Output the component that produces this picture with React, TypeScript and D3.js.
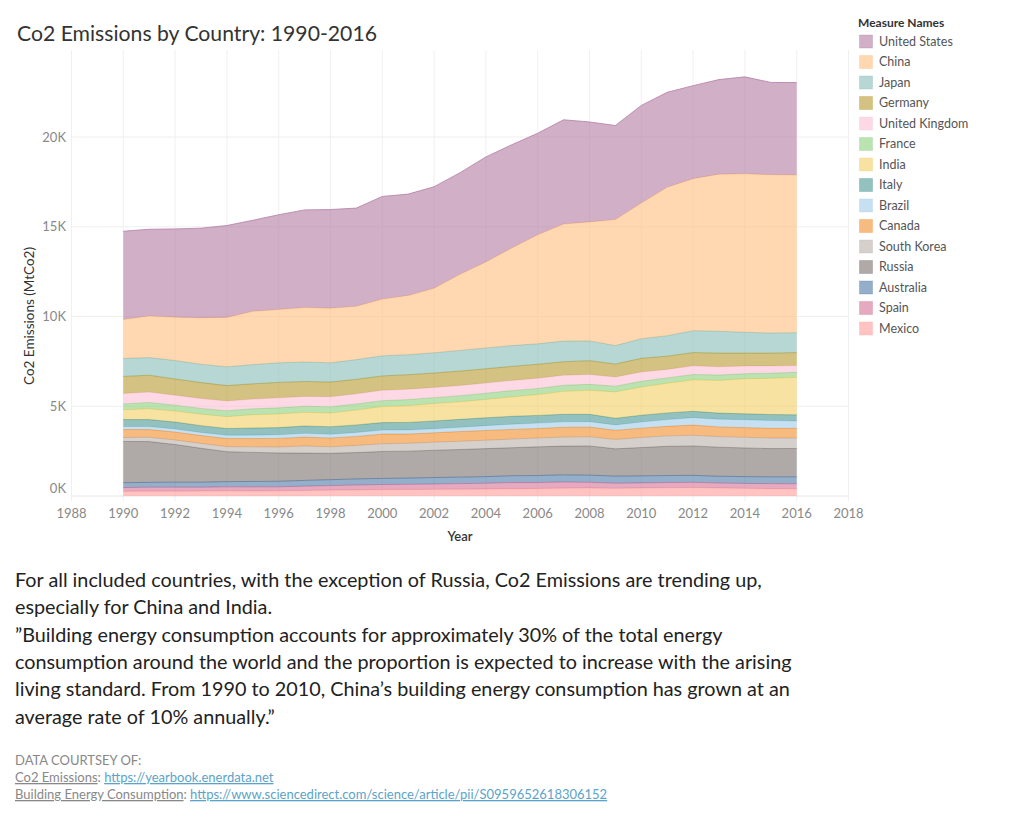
import React from 'react';
import * as d3 from 'd3';

// Years covered by the series
const years = [
  1990, 1991, 1992, 1993, 1994, 1995, 1996, 1997, 1998, 1999,
  2000, 2001, 2002, 2003, 2004, 2005, 2006, 2007, 2008, 2009,
  2010, 2011, 2012, 2013, 2014, 2015, 2016,
];

// CO2 emissions per country, thousands of MtCO2
const unitedStates = [4.92, 4.83, 4.92, 5.0, 5.12, 5.07, 5.28, 5.44, 5.5, 5.47, 5.72, 5.65, 5.66, 5.66, 5.85, 5.75, 5.66, 5.81, 5.57, 5.24, 5.44, 5.29, 5.18, 5.27, 5.4, 5.14, 5.15];
const china = [2.17, 2.32, 2.41, 2.58, 2.75, 2.97, 2.97, 3.03, 3.04, 2.97, 3.16, 3.3, 3.59, 4.24, 4.79, 5.44, 6.07, 6.52, 6.63, 7.02, 7.56, 8.27, 8.47, 8.75, 8.83, 8.82, 8.78];
const japan = [1.0, 0.98, 1.03, 1.02, 1.05, 1.07, 1.09, 1.09, 1.07, 1.1, 1.12, 1.11, 1.13, 1.15, 1.16, 1.16, 1.14, 1.15, 1.1, 1.03, 1.09, 1.14, 1.22, 1.22, 1.16, 1.12, 1.11];
const germany = [0.95, 0.94, 0.91, 0.89, 0.86, 0.85, 0.86, 0.83, 0.82, 0.81, 0.8, 0.81, 0.8, 0.8, 0.8, 0.78, 0.78, 0.75, 0.77, 0.72, 0.76, 0.74, 0.74, 0.76, 0.72, 0.72, 0.72];
const unitedKingdom = [0.58, 0.58, 0.55, 0.55, 0.54, 0.54, 0.56, 0.55, 0.56, 0.56, 0.58, 0.58, 0.57, 0.57, 0.56, 0.57, 0.57, 0.56, 0.55, 0.51, 0.52, 0.47, 0.48, 0.46, 0.43, 0.4, 0.38];
const france = [0.33, 0.35, 0.33, 0.32, 0.33, 0.33, 0.34, 0.34, 0.35, 0.34, 0.33, 0.34, 0.33, 0.34, 0.35, 0.35, 0.34, 0.34, 0.33, 0.32, 0.32, 0.3, 0.3, 0.3, 0.28, 0.28, 0.28];
const india = [0.54, 0.6, 0.61, 0.64, 0.66, 0.74, 0.76, 0.76, 0.76, 0.83, 0.89, 0.93, 0.97, 0.98, 1.02, 1.08, 1.16, 1.28, 1.34, 1.47, 1.57, 1.65, 1.75, 1.82, 1.95, 2.02, 2.09];
const italy = [0.39, 0.39, 0.39, 0.38, 0.38, 0.4, 0.4, 0.41, 0.42, 0.42, 0.42, 0.42, 0.43, 0.44, 0.44, 0.44, 0.43, 0.42, 0.41, 0.37, 0.38, 0.37, 0.36, 0.34, 0.33, 0.34, 0.34];
const brazil = [0.17, 0.17, 0.17, 0.17, 0.18, 0.19, 0.2, 0.21, 0.21, 0.22, 0.22, 0.23, 0.23, 0.24, 0.27, 0.29, 0.3, 0.3, 0.3, 0.3, 0.34, 0.38, 0.41, 0.43, 0.44, 0.43, 0.41];
const canada = [0.44, 0.43, 0.44, 0.44, 0.45, 0.46, 0.48, 0.49, 0.49, 0.5, 0.54, 0.51, 0.52, 0.54, 0.54, 0.54, 0.53, 0.55, 0.54, 0.51, 0.52, 0.53, 0.57, 0.54, 0.54, 0.54, 0.54];
const southKorea = [0.22, 0.24, 0.25, 0.27, 0.28, 0.31, 0.33, 0.4, 0.36, 0.4, 0.43, 0.44, 0.45, 0.46, 0.47, 0.48, 0.49, 0.5, 0.51, 0.52, 0.56, 0.58, 0.59, 0.59, 0.59, 0.59, 0.58];
const russia = [2.3, 2.27, 2.1, 1.89, 1.67, 1.62, 1.58, 1.52, 1.47, 1.47, 1.5, 1.5, 1.52, 1.54, 1.56, 1.56, 1.6, 1.6, 1.63, 1.52, 1.58, 1.63, 1.64, 1.62, 1.6, 1.57, 1.58];
const australia = [0.27, 0.27, 0.28, 0.28, 0.29, 0.3, 0.31, 0.32, 0.33, 0.34, 0.34, 0.35, 0.36, 0.36, 0.37, 0.38, 0.39, 0.4, 0.4, 0.4, 0.39, 0.39, 0.39, 0.38, 0.38, 0.38, 0.39];
const spain = [0.21, 0.22, 0.22, 0.21, 0.22, 0.23, 0.22, 0.24, 0.25, 0.27, 0.28, 0.29, 0.3, 0.31, 0.32, 0.34, 0.33, 0.34, 0.31, 0.28, 0.28, 0.29, 0.29, 0.27, 0.27, 0.28, 0.28];
const mexico = [0.26, 0.27, 0.27, 0.28, 0.29, 0.28, 0.29, 0.31, 0.33, 0.34, 0.36, 0.36, 0.37, 0.38, 0.39, 0.41, 0.42, 0.44, 0.45, 0.43, 0.45, 0.46, 0.47, 0.45, 0.43, 0.41, 0.4];

// Legend order (top to bottom); stacking runs in reverse
const countries = [
  'United States', 'China', 'Japan', 'Germany', 'United Kingdom', 'France', 'India',
  'Italy', 'Brazil', 'Canada', 'South Korea', 'Russia', 'Australia', 'Spain', 'Mexico',
];
const seriesValues = [
  unitedStates, china, japan, germany, unitedKingdom, france, india,
  italy, brazil, canada, southKorea, russia, australia, spain, mexico,
];
const palette = [
  '#b07aa1', '#ffbe7d', '#86bcb6', '#b6992d', '#fabfd2', '#8cd17d', '#f1ce63',
  '#499894', '#a0cbe8', '#f28e2b', '#bab0ac', '#79706e', '#4e79a7', '#d37295', '#ff9d9a',
];

const yTicks = [0, 5000, 10000, 15000, 20000];
const xTicks = [1988, 1990, 1992, 1994, 1996, 1998, 2000, 2002, 2004, 2006, 2008, 2010, 2012, 2014, 2016, 2018];

const noteLines = [
  'For all included countries, with the exception of Russia, Co2 Emissions are trending up,',
  'especially for China and India.',
  '\u201dBuilding energy consumption accounts for approximately 30% of the total energy',
  'consumption around the world and the proportion is expected to increase with the arising',
  'living standard. From 1990 to 2010, China\u2019s building energy consumption has grown at an',
  'average rate of 10% annually.\u201d',
];

const FONT = "Lato, 'Noto Sans', sans-serif";

export default function App() {
  const W = 1024;
  const H = 819;
  const x = d3.scaleLinear().domain([1988, 2018]).range([71.5, 848.5]);
  const y = d3.scaleLinear().domain([0, 20000]).range([496, 137]);

  const rows = years.map((yr, i) => {
    const row: Record<string, number> = { year: yr };
    countries.forEach((c, k) => { row[c] = seriesValues[k][i] * 1000; });
    return row;
  });
  const stackKeys = [...countries].reverse();
  const stacked = d3.stack<Record<string, number>>().keys(stackKeys)(rows);
  const color = d3.scaleOrdinal<string, string>().domain(countries).range(palette);

  const area = d3.area<d3.SeriesPoint<Record<string, number>>>()
    .x((d) => x(d.data.year))
    .y0((d) => y(d[0]))
    .y1((d) => y(d[1]));
  const topLine = d3.line<d3.SeriesPoint<Record<string, number>>>()
    .x((d) => x(d.data.year))
    .y((d) => y(d[1]));

  const paneTop = 50;
  const paneBottom = 496;

  return (
    <div style={{ position: 'absolute', left: 0, top: 0 }}>
      <svg width={W} height={H} style={{ display: 'block', background: '#fff' }}>
        <text x={17} y={41} fontFamily={FONT} fontSize={21.2} fill="#333">
          Co2 Emissions by Country: 1990-2016
        </text>

        {/* grid */}
        {xTicks.map((t) => (
          <line key={'vx' + t} x1={x(t)} x2={x(t)} y1={paneTop} y2={paneBottom + 5} stroke="#f0f0f0" strokeWidth={1} />
        ))}
        {yTicks.map((t) => (
          <line key={'hy' + t} x1={x(1988)} x2={x(2018)} y1={y(t)} y2={y(t)} stroke={t === 0 ? '#e6e6e6' : '#efefef'} strokeWidth={1} />
        ))}

        {/* stacked areas */}
        {stacked.map((s) => (
          <g key={s.key}>
            <path d={area(s) || ''} fill={color(s.key)} fillOpacity={0.6} stroke="none" />
            <path d={topLine(s) || ''} fill="none" stroke={color(s.key)} strokeOpacity={0.75} strokeWidth={1} />
          </g>
        ))}

        {/* y axis */}
        {yTicks.map((t) => (
          <text key={'yl' + t} x={66} y={Math.min(y(t), 488)} dy="0.35em" textAnchor="end" fontFamily={FONT} fontSize={13} fill="#888">
            {d3.format('~s')(t).replace('k', 'K').replace(/^0$/, '0K')}
          </text>
        ))}
        <text transform="translate(34,316) rotate(-90)" textAnchor="middle" fontFamily={FONT} fontSize={13.5} fill="#333">
          Co2 Emissions (MtCo2)
        </text>

        {/* x axis */}
        {xTicks.map((t) => (
          <text key={'xl' + t} x={x(t)} y={513} dy="0.35em" textAnchor="middle" fontFamily={FONT} fontSize={13} fill="#888">
            {t}
          </text>
        ))}
        <text x={460} y={541} textAnchor="middle" fontFamily={FONT} fontSize={13} fontWeight={600} fill="#333">
          Year
        </text>

        {/* legend */}
        <text x={858} y={27} fontFamily={FONT} fontSize={12} fontWeight={700} fill="#333">
          Measure Names
        </text>
        {countries.map((c, i) => (
          <g key={'lg' + c} transform={`translate(859, ${34.5 + i * 20.5})`}>
            <rect x={0.5} y={0.5} width={13} height={13} fill={color(c)} fillOpacity={0.6} stroke={color(c)} strokeOpacity={0.3} />
            <text x={20} y={7} dy="0.35em" fontFamily={FONT} fontSize={12.5} fill="#555">
              {c}
            </text>
          </g>
        ))}

        {/* commentary */}
        {noteLines.map((line, i) => (
          <text key={'n' + i} x={15} y={587 + i * 27.3} fontFamily={FONT} fontSize={19.8} fill="#222">
            {line}
          </text>
        ))}

        {/* sources */}
        <text x={15} y={765} fontFamily={FONT} fontSize={13} fill="#888">DATA COURTSEY OF:</text>
        <text x={15} y={782} fontFamily={FONT} fontSize={13} fill="#888">
          <tspan textDecoration="underline">Co2 Emissions</tspan>
          <tspan>: </tspan>
          <tspan fill="#5ba3c9" textDecoration="underline">https://yearbook.enerdata.net</tspan>
        </text>
        <text x={15} y={799} fontFamily={FONT} fontSize={13} fill="#888">
          <tspan textDecoration="underline">Building Energy Consumption</tspan>
          <tspan>: </tspan>
          <tspan fill="#5ba3c9" textDecoration="underline">https://www.sciencedirect.com/science/article/pii/S0959652618306152</tspan>
        </text>
      </svg>
    </div>
  );
}
